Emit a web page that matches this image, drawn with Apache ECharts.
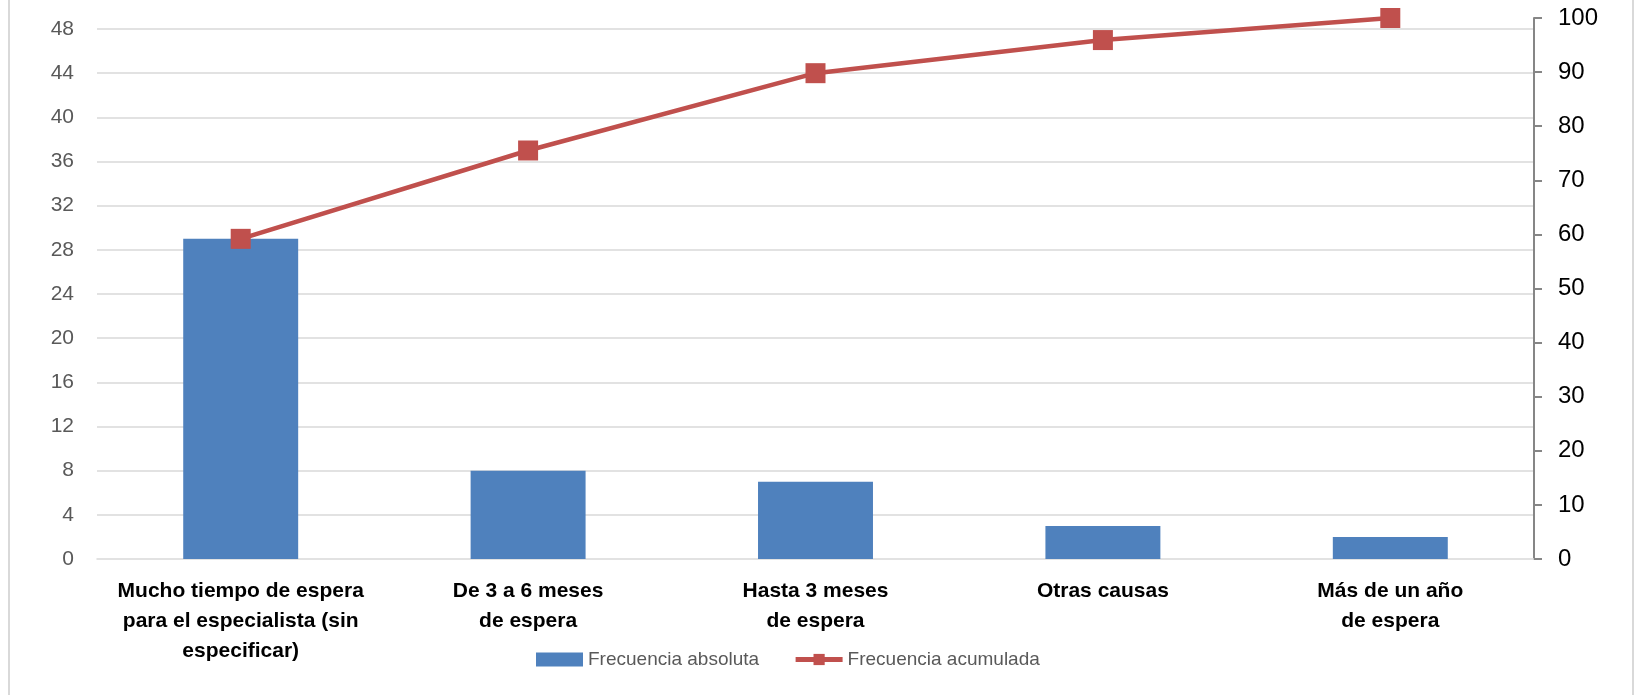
<!DOCTYPE html>
<html>
<head>
<meta charset="utf-8">
<script src="https://cdn.jsdelivr.net/npm/echarts@6/dist/echarts.min.js"></script>
<style>
html,body{margin:0;padding:0;background:#fff;}
#c{width:1634px;height:695px;}
</style>
</head>
<body>
<div id="c"></div>
<script>
var categories = [
  "Mucho tiempo de espera\npara el especialista (sin\nespecificar)",
  "De 3 a 6 meses\nde espera",
  "Hasta 3 meses\nde espera",
  "Otras causas",
  "Más de un año\nde espera"
];
var absoluta = [29, 8, 7, 3, 2];
var acumulada = [59.18, 75.51, 89.80, 95.92, 100];
var leftTicks = [0, 4, 8, 12, 16, 20, 24, 28, 32, 36, 40, 44, 48];
var seriesNames = ["Frecuencia absoluta", "Frecuencia acumulada"];

var chart = echarts.init(document.getElementById('c'));
var FONT = "'Liberation Sans', Arial, sans-serif";
chart.setOption({
  animation: false,
  textStyle: { fontFamily: FONT },
  graphic: [{
    type: 'rect', silent: true, z: -10,
    shape: { x: 9, y: -10, width: 1624, height: 720 },
    style: { fill: 'none', stroke: '#D9D9D9', lineWidth: 2 }
  }],
  grid: { left: 97, right: 100, top: 18, bottom: 136, containLabel: false },
  legend: {
    data: [
      { name: seriesNames[0], icon: 'rect' },
      { name: seriesNames[1], lineStyle: { width: 5, color: '#C0504D' } }
    ],
    left: 531, top: 645,
    itemWidth: 47, itemHeight: 14, itemGap: 34,
    textStyle: { fontSize: 19, color: '#595959', fontFamily: FONT }
  },
  xAxis: {
    type: 'category', data: categories,
    axisLine: { show: true, lineStyle: { color: '#D9D9D9', width: 1.5 } },
    axisTick: { show: false },
    axisLabel: { interval: 0, fontSize: 21, fontWeight: 'bold', color: '#000', lineHeight: 30, margin: 17, fontFamily: FONT }
  },
  yAxis: [{
    type: 'value', min: 0, max: 49, interval: 4,
    axisLine: { show: false }, axisTick: { show: false },
    splitLine: { show: false },
    axisLabel: { customValues: leftTicks, fontSize: 21, color: '#595959', margin: 23, fontFamily: FONT }
  }, {
    type: 'value', min: 0, max: 100, interval: 10, position: 'right',
    axisLine: { show: true, lineStyle: { color: '#868686', width: 2 } },
    axisTick: { show: true, length: 8, inside: false, lineStyle: { color: '#868686', width: 2 } },
    splitLine: { show: false },
    axisLabel: { fontSize: 24, color: '#000', margin: 24, fontFamily: FONT }
  }],
  series: [{
    name: 'grid', type: 'line', data: [], yAxisIndex: 0, z: 0, silent: true,
    markLine: {
      silent: true, symbol: 'none', z: 0, label: { show: false },
      lineStyle: { color: '#D9D9D9', width: 1.5, type: 'solid' },
      data: leftTicks.slice(1).map(function (v) { return { yAxis: v }; })
    }
  }, {
    name: seriesNames[0], type: 'bar', data: absoluta, yAxisIndex: 0, z: 3,
    barCategoryGap: '60%',
    itemStyle: { color: '#4F81BD' }
  }, {
    name: seriesNames[1], type: 'line', data: acumulada, yAxisIndex: 1, z: 5,
    symbol: 'rect', symbolSize: 20,
    lineStyle: { color: '#C0504D', width: 4.5 },
    itemStyle: { color: '#C0504D' }
  }]
});
</script>
</body>
</html>
